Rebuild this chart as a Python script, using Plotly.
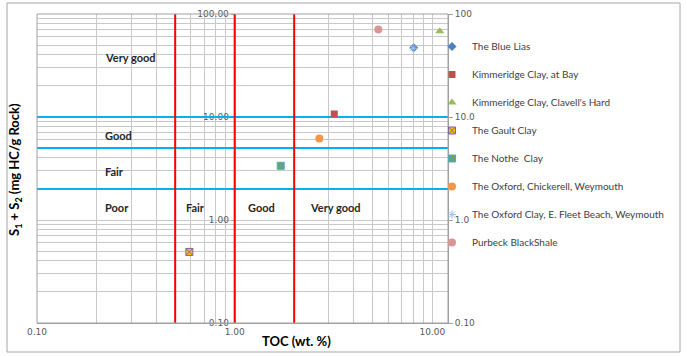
import numpy as np
import plotly.graph_objects as go

# ---- data ----
series_names = ["The Blue Lias", "Kimmeridge Clay, at Bay", "Kimmeridge Clay, Clavell's Hard",
                "The Gault Clay", "The Nothe  Clay", "The Oxford, Chickerell, Weymouth",
                "The Oxford Clay, E. Fleet Beach, Weymouth", "Purbeck BlackShale"]
toc_values = [8.05, 3.19, 10.9, 0.59, 1.71, 2.68, 8.0, 5.33]
s1s2_values = [47.0, 10.7, 68.0, 0.49, 3.36, 6.2, 46.5, 70.8]

toc_thresholds = [0.5, 1.0, 2.0]        # red vertical lines
s1s2_thresholds = [2.0, 5.0, 10.0]      # blue horizontal lines

x_range = [0.1, 12.0]
y_range = [0.1, 100.0]

x_tick_vals = [0.1, 1.0, 10.0]
x_tick_text = ["0.10", "1.00", "10.00"]
y_tick_vals = [0.1, 1.0, 10.0, 100.0]
y_tick_text = ["0.10", "1.00", "10.00", "100.00"]
y2_tick_text = ["0.10", "1.0", "10.0", "100"]

x_minor = [m * d for d in [0.1, 1, 10] for m in range(2, 10) if m * d <= 12]
y_minor = [m * d for d in [0.1, 1, 10] for m in range(2, 10)]

zone_labels_y = [("Very good", 0.215, 37.7), ("Good", 0.215, 6.6), ("Fair", 0.215, 2.95)]
zone_labels_x = [("Poor", 0.215, 1.33), ("Fair", 0.552, 1.33), ("Good", 1.137, 1.33), ("Very good", 2.34, 1.33)]

# ---- styles ----
styles = [
    dict(symbol="diamond", color="#4F81BD", size=7, line=dict(width=0)),
    dict(symbol="square", color="#C0504D", size=7, line=dict(width=0)),
    dict(symbol="triangle-up", color="#9BBB59", size=8, line=dict(width=0)),
    dict(symbol="square-x", color="#FFC000", size=7, line=dict(width=1, color="#8064A2")),
    dict(symbol="square-x", color="#77A04A", size=7, line=dict(width=1, color="#4BACC6")),
    dict(symbol="circle", color="#F79646", size=8, line=dict(width=0)),
    dict(symbol="asterisk-open", color="#9DC3E6", size=7, line=dict(width=1, color="#9DC3E6")),
    dict(symbol="circle", color="#D99694", size=8, line=dict(width=0)),
]

fig = go.Figure()

for v in s1s2_thresholds:
    fig.add_trace(go.Scatter(x=x_range, y=[v, v], mode="lines",
                             line=dict(color="#00B0F0", width=2), showlegend=False, hoverinfo="skip"))
for v in toc_thresholds:
    fig.add_trace(go.Scatter(x=[v, v], y=y_range, mode="lines",
                             line=dict(color="#FF0000", width=2), showlegend=False, hoverinfo="skip"))

for i, (name, xv, yv) in enumerate(zip(series_names, toc_values, s1s2_values)):
    st = styles[i]
    fig.add_trace(go.Scatter(x=[xv], y=[yv], mode="markers", name=name, legendgroup=name,
                             marker=dict(symbol=st["symbol"], color=st["color"], size=st["size"],
                                         line=st["line"])))

fig.add_trace(go.Scatter(x=[x_range[0]], y=[y_range[0]], yaxis="y2", mode="markers",
                         marker=dict(opacity=0), showlegend=False, hoverinfo="skip"))

lx0, lx1 = np.log10(x_range)
y_axis_pos = (0 - lx0) / (lx1 - lx0)

tickfont = dict(family="DejaVu Sans", size=9, color="#595959")
grid = "#C8C8C8"
W, H, L, R, T, B = 687, 356, 37, 239, 14, 33
PW, PH = W - L - R, H - T - B

fig.update_layout(
    width=W, height=H,
    margin=dict(l=L, r=R, t=T, b=B, autoexpand=False),
    paper_bgcolor="white", plot_bgcolor="white",
    showlegend=True,
    legend=dict(x=(432 - L) / PW, y=(H - B - 32) / PH, xanchor="left", yanchor="top",
                font=dict(family="Lato", size=10, color="#404040"),
                tracegroupgap=9, itemwidth=30, bgcolor="rgba(0,0,0,0)"),
    xaxis=dict(type="log", range=[lx0, lx1], tickvals=x_tick_vals, ticktext=x_tick_text,
               tickfont=tickfont, showgrid=True, gridcolor=grid, gridwidth=1,
               minor=dict(tickvals=x_minor, showgrid=True, gridcolor=grid, gridwidth=1),
               showline=True, linecolor="#A0A0A0", zeroline=False, ticks="", automargin=False),
    yaxis=dict(type="log", range=[-1, 2], tickvals=y_tick_vals, ticktext=y_tick_text,
               tickfont=tickfont, showgrid=True, gridcolor=grid, gridwidth=1,
               minor=dict(tickvals=y_minor, showgrid=True, gridcolor=grid, gridwidth=1),
               anchor="free", position=y_axis_pos, showline=True, linecolor="#B0B0B0",
               ticks="outside", ticklen=4, tickcolor="#B0B0B0", zeroline=False,
               layer="below traces", automargin=False),
    yaxis2=dict(type="log", range=[-1, 2], overlaying="y", side="right",
                tickvals=y_tick_vals, ticktext=y2_tick_text, tickfont=tickfont,
                showgrid=False, ticks="outside", ticklen=4, tickcolor="#A0A0A0",
                showline=True, linecolor="#A0A0A0", zeroline=False, automargin=False),
)

annotations = []
for txt, xv, yv in zone_labels_y + zone_labels_x:
    annotations.append(dict(x=np.log10(xv), y=np.log10(yv), xref="x", yref="y", text=txt,
                            showarrow=False, xanchor="left", yanchor="middle",
                            font=dict(family="Lato", size=11, color="#262626", weight="bold")))
annotations.append(dict(x=(296 - L) / PW, y=(H - B - 341) / PH, xref="paper", yref="paper",
                        text="<b>TOC (wt. %)</b>", showarrow=False, xanchor="center", yanchor="middle",
                        font=dict(family="Lato", size=13, color="#000000")))
annotations.append(dict(x=(15 - L) / PW, y=(H - B - 170) / PH, xref="paper", yref="paper",
                        text="<b>S<sub>1</sub> + S<sub>2</sub> (mg HC/g Rock)</b>", showarrow=False,
                        textangle=-90, xanchor="center", yanchor="middle",
                        font=dict(family="Lato", size=13, color="#000000")))
fig.update_layout(annotations=annotations)

shapes = [
    dict(type="rect", xref="x domain", yref="y domain", x0=0, x1=1, y0=0, y1=1,
         line=dict(color="#A0A0A0", width=1), layer="above"),
    dict(type="rect", xref="paper", yref="paper", x0=(7 - L) / PW, x1=(680 - L) / PW,
         y0=(H - B - 352) / PH, y1=(H - B - 3) / PH, line=dict(color="#A6A6A6", width=1)),
]
fig.update_layout(shapes=shapes)

fig.write_html("out.html", config={"displayModeBar": False},
               post_script="document.body.style.margin='0';document.body.style.overflow='hidden';")
